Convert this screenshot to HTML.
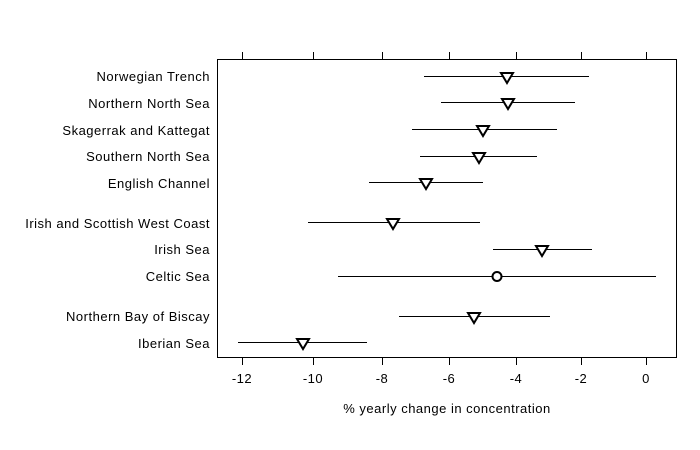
<!DOCTYPE html>
<html><head><style>
html,body{margin:0;padding:0;background:#fff}
svg{display:block;font-family:"Liberation Sans",sans-serif;font-size:13px;letter-spacing:0.5px}
</style></head><body>
<svg width="700" height="450" viewBox="0 0 700 450">
<rect x="217.5" y="59.5" width="459" height="298" fill="none" stroke="#000" stroke-width="1"/>
<g stroke="#000" stroke-width="1">
<line x1="242.5" y1="52" x2="242.5" y2="59"/><line x1="313.5" y1="52" x2="313.5" y2="59"/><line x1="382.5" y1="52" x2="382.5" y2="59"/><line x1="449.5" y1="52" x2="449.5" y2="59"/><line x1="516.5" y1="52" x2="516.5" y2="59"/><line x1="581.5" y1="52" x2="581.5" y2="59"/><line x1="646.5" y1="52" x2="646.5" y2="59"/>
<line x1="242.5" y1="358" x2="242.5" y2="365"/><line x1="313.5" y1="358" x2="313.5" y2="365"/><line x1="382.5" y1="358" x2="382.5" y2="365"/><line x1="449.5" y1="358" x2="449.5" y2="365"/><line x1="516.5" y1="358" x2="516.5" y2="365"/><line x1="581.5" y1="358" x2="581.5" y2="365"/><line x1="646.5" y1="358" x2="646.5" y2="365"/>
</g>
<g text-anchor="middle" fill="#000">
<text x="242" y="383">-12</text><text x="313" y="383">-10</text><text x="382" y="383">-8</text><text x="449" y="383">-6</text><text x="516" y="383">-4</text><text x="581" y="383">-2</text><text x="646" y="383">0</text>
<text x="447" y="413">% yearly change in concentration</text>
</g>
<g text-anchor="end" fill="#000">
<text x="210" y="81">Norwegian Trench</text>
<text x="210" y="108">Northern North Sea</text>
<text x="210" y="135">Skagerrak and Kattegat</text>
<text x="210" y="161">Southern North Sea</text>
<text x="210" y="188">English Channel</text>
<text x="210" y="228">Irish and Scottish West Coast</text>
<text x="210" y="254">Irish Sea</text>
<text x="210" y="281">Celtic Sea</text>
<text x="210" y="321">Northern Bay of Biscay</text>
<text x="210" y="348">Iberian Sea</text>
</g>
<g stroke="#000" stroke-width="1">
<line x1="424" y1="76.5" x2="589" y2="76.5"/>
<line x1="441" y1="102.5" x2="575" y2="102.5"/>
<line x1="412" y1="129.5" x2="557" y2="129.5"/>
<line x1="420" y1="156.5" x2="537" y2="156.5"/>
<line x1="369" y1="182.5" x2="483" y2="182.5"/>
<line x1="308" y1="222.5" x2="480" y2="222.5"/>
<line x1="493" y1="249.5" x2="592" y2="249.5"/>
<line x1="338" y1="276.5" x2="656" y2="276.5"/>
<line x1="399" y1="316.5" x2="550" y2="316.5"/>
<line x1="238" y1="342.5" x2="367" y2="342.5"/>
</g>
<g fill="#fff" stroke="#000" stroke-width="2" stroke-linejoin="miter">
<path d="M501,73 h12 l-6,10 z"/>
<path d="M502,99 h12 l-6,10 z"/>
<path d="M477,126 h12 l-6,10 z"/>
<path d="M473,153 h12 l-6,10 z"/>
<path d="M420,179 h12 l-6,10 z"/>
<path d="M387,219 h12 l-6,10 z"/>
<path d="M536,246 h12 l-6,10 z"/>
<circle cx="497" cy="276.5" r="4.5"/>
<path d="M468,313 h12 l-6,10 z"/>
<path d="M297,339 h12 l-6,10 z"/>
</g>
</svg>
</body></html>
